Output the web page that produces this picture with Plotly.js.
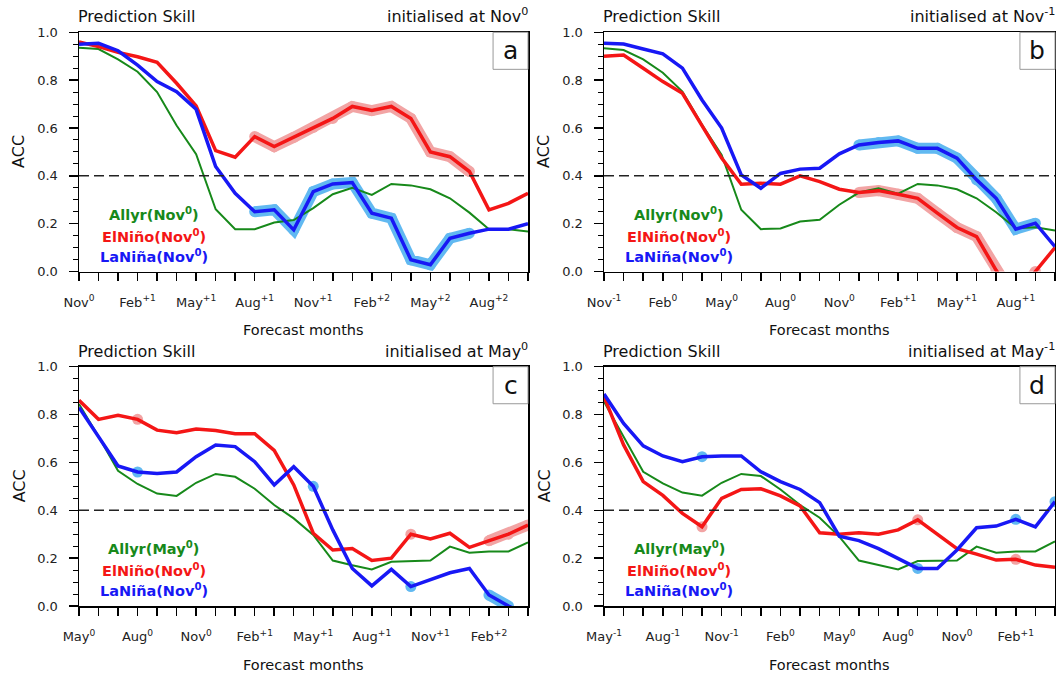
<!DOCTYPE html>
<html>
<head>
<meta charset="utf-8">
<script src="https://cdn.plot.ly/plotly-3.0.1.min.js"></script>
<style>html,body{margin:0;padding:0;background:#fff;}#chart{width:1056px;height:673px;}</style>
</head>
<body>
<div id="chart"></div>
<script>
// ---------------- data ----------------
const monthIdx = [0,1,2,3,4,5,6,7,8,9,10,11,12,13,14,15,16,17,18,19,20,21,22,23];
const labelMonths = [0,3,6,9,12,15,18,21];
const THRESH = 0.4;

// Panel a: initialised at Nov0
const labelsA = ['Nov<sup>0</sup>','Feb<sup>+1</sup>','May<sup>+1</sup>','Aug<sup>+1</sup>','Nov<sup>+1</sup>','Feb<sup>+2</sup>','May<sup>+2</sup>','Aug<sup>+2</sup>'];
const allyrA  = [0.935,0.93,0.887,0.835,0.75,0.61,0.49,0.26,0.177,0.177,0.205,0.215,0.265,0.323,0.35,0.32,0.366,0.36,0.344,0.306,0.246,0.177,0.177,0.167];
const elninoA = [0.96,0.94,0.916,0.898,0.875,0.787,0.692,0.505,0.478,0.564,0.522,0.561,0.603,0.64,0.69,0.673,0.69,0.64,0.50,0.48,0.418,0.258,0.285,0.327];
const laninaA = [0.95,0.954,0.923,0.863,0.794,0.752,0.678,0.439,0.327,0.25,0.258,0.174,0.334,0.366,0.372,0.244,0.223,0.049,0.028,0.139,0.16,0.177,0.177,0.2];
const sigElA  = [9,10,11,12,13,14,15,16,17,18,19,20];
const sigLaA  = [9,10,11,12,13,14,15,16,17,18,19,20];

// Panel b: initialised at Nov-1
const labelsB = ['Nov<sup>-1</sup>','Feb<sup>0</sup>','May<sup>0</sup>','Aug<sup>0</sup>','Nov<sup>0</sup>','Feb<sup>+1</sup>','May<sup>+1</sup>','Aug<sup>+1</sup>'];
const allyrB  = [0.933,0.926,0.887,0.831,0.752,0.613,0.487,0.258,0.177,0.18,0.209,0.216,0.279,0.33,0.348,0.325,0.366,0.36,0.344,0.306,0.248,0.181,0.185,0.171];
const elninoB = [0.90,0.905,0.85,0.794,0.745,0.606,0.474,0.365,0.369,0.365,0.40,0.376,0.344,0.33,0.338,0.323,0.306,0.244,0.184,0.146,0.005,-0.12,0.0,0.1];
const laninaB = [0.954,0.951,0.93,0.91,0.85,0.717,0.60,0.404,0.348,0.41,0.428,0.432,0.492,0.529,0.539,0.546,0.515,0.515,0.474,0.383,0.306,0.177,0.202,0.104];
const sigElB  = [13,14,15,16,17,18,19,20,21,22];
const sigLaB  = [13,14,15,16,17,18,19,20,21,22];

// Panel c: initialised at May0
const labelsC = ['May<sup>0</sup>','Aug<sup>0</sup>','Nov<sup>0</sup>','Feb<sup>+1</sup>','May<sup>+1</sup>','Aug<sup>+1</sup>','Nov<sup>+1</sup>','Feb<sup>+2</sup>'];
const allyrC  = [0.844,0.708,0.565,0.51,0.47,0.46,0.515,0.552,0.54,0.49,0.422,0.366,0.297,0.19,0.17,0.153,0.185,0.188,0.19,0.248,0.223,0.228,0.228,0.266];
const elninoC = [0.86,0.78,0.797,0.78,0.735,0.724,0.74,0.733,0.72,0.72,0.65,0.506,0.304,0.234,0.24,0.19,0.20,0.30,0.28,0.304,0.245,0.273,0.30,0.338];
const laninaC = [0.83,0.71,0.585,0.56,0.554,0.56,0.624,0.673,0.666,0.603,0.506,0.582,0.50,0.318,0.157,0.084,0.153,0.081,0.111,0.139,0.157,0.046,0.0,-0.04];
const sigElC  = [3,17,21,22,23];
const sigLaC  = [3,12,17,21,22];

// Panel d: initialised at May-1
const labelsD = ['May<sup>-1</sup>','Aug<sup>-1</sup>','Nov<sup>-1</sup>','Feb<sup>0</sup>','May<sup>0</sup>','Aug<sup>0</sup>','Nov<sup>0</sup>','Feb<sup>+1</sup>'];
const allyrD  = [0.854,0.71,0.561,0.512,0.474,0.461,0.515,0.552,0.543,0.487,0.422,0.369,0.29,0.19,0.17,0.153,0.188,0.19,0.19,0.248,0.223,0.228,0.228,0.27];
const elninoD = [0.875,0.673,0.52,0.462,0.387,0.331,0.45,0.487,0.49,0.46,0.418,0.306,0.30,0.306,0.30,0.318,0.36,0.30,0.24,0.217,0.192,0.195,0.171,0.162];
const laninaD = [0.886,0.763,0.669,0.627,0.603,0.624,0.627,0.627,0.561,0.52,0.487,0.432,0.292,0.273,0.24,0.20,0.157,0.157,0.234,0.327,0.334,0.362,0.331,0.436];
const sigElD  = [5,16,21];
const sigLaD  = [5,16,21,23];

const panelLetters = ['a','b','c','d'];
const initTitles = ['initialised at Nov<sup>0</sup>','initialised at Nov<sup>-1</sup>','initialised at May<sup>0</sup>','initialised at May<sup>-1</sup>'];
const legendA = ['Allyr(Nov<sup>0</sup>)','ElNiño(Nov<sup>0</sup>)','LaNiña(Nov<sup>0</sup>)'];
const legendC = ['Allyr(May<sup>0</sup>)','ElNiño(Nov<sup>0</sup>)','LaNiña(Nov<sup>0</sup>)'];

// ---------------- styling ----------------
const FONT = 'DejaVu Sans, Liberation Sans, Arial, sans-serif';
const GREEN = '#17891a', RED = '#f41616', BLUE = '#1818f5';
const RED_HI = '#e85a5a', BLUE_HI = '#1f9cec';
const W = 1056, H = 673;
const xDomA = [79/W, 528/W], xDomB = [604/W, 1055/W];
const yDomTop = [1-271.5/H, 1-32.3/H], yDomBot = [1-606/H, 1-366.7/H];

const panels = [
  {labels: labelsA, allyr: allyrA, el: elninoA, la: laninaA, sigEl: sigElA, sigLa: sigLaA, leg: legendA, xd: xDomA, yd: yDomTop},
  {labels: labelsB, allyr: allyrB, el: elninoB, la: laninaB, sigEl: sigElB, sigLa: sigLaB, leg: legendA, xd: xDomB, yd: yDomTop},
  {labels: labelsC, allyr: allyrC, el: elninoC, la: laninaC, sigEl: sigElC, sigLa: sigLaC, leg: legendC, xd: xDomA, yd: yDomBot},
  {labels: labelsD, allyr: allyrD, el: elninoD, la: laninaD, sigEl: sigElD, sigLa: sigLaD, leg: legendC, xd: xDomB, yd: yDomBot}
];

function masked(vals, sig) { return vals.map((v, i) => sig.includes(i) ? v : null); }

const traces = [];
const layout = {
  width: W, height: H, margin: {l:0, r:0, t:0, b:0},
  paper_bgcolor: '#fff', plot_bgcolor: '#fff', showlegend: false,
  font: {family: FONT, color: '#111'},
  annotations: [], shapes: []
};

panels.forEach((p, k) => {
  const n = k + 1, sfx = n === 1 ? '' : String(n);
  const xa = 'x' + sfx, ya = 'y' + sfx;
  // significance halos
  traces.push({x: monthIdx, y: masked(p.el, p.sigEl), xaxis: xa, yaxis: ya, mode: 'lines+markers',
    line: {color: RED_HI, width: 11}, marker: {color: RED_HI, size: 11}, opacity: 0.55, connectgaps: false, hoverinfo: 'skip'});
  traces.push({x: monthIdx, y: masked(p.la, p.sigLa), xaxis: xa, yaxis: ya, mode: 'lines+markers',
    line: {color: BLUE_HI, width: 11}, marker: {color: BLUE_HI, size: 11}, opacity: 0.7, connectgaps: false, hoverinfo: 'skip'});
  // main lines
  traces.push({x: monthIdx, y: p.allyr, xaxis: xa, yaxis: ya, mode: 'lines', line: {color: GREEN, width: 2}});
  traces.push({x: monthIdx, y: p.el, xaxis: xa, yaxis: ya, mode: 'lines', line: {color: RED, width: 3.5}});
  traces.push({x: monthIdx, y: p.la, xaxis: xa, yaxis: ya, mode: 'lines', line: {color: BLUE, width: 3.5}});

  layout['xaxis' + sfx] = {
    domain: p.xd, anchor: ya, range: [0, 23], tickmode: 'array', tickvals: labelMonths, ticktext: p.labels,
    ticks: 'outside', ticklen: 8, tickwidth: 1.5, tickcolor: '#000',
    minor: {tick0: 0, dtick: 1, ticks: 'outside', ticklen: 8, tickwidth: 1.5, tickcolor: '#000', showgrid: false},
    showgrid: false, zeroline: false,
    showline: true, linecolor: '#000', linewidth: 1.5, mirror: true, ticklabelstandoff: 10,
    tickfont: {family: FONT, size: 13, color: '#222'}, fixedrange: true
  };
  layout['yaxis' + sfx] = {
    domain: p.yd, anchor: xa, range: [0, 1], dtick: 0.2, tick0: 0, tickformat: '.1f',
    ticks: 'outside', ticklen: 9, tickwidth: 1.5, tickcolor: '#000',
    minor: {dtick: 0.05, ticks: 'outside', ticklen: 5, tickwidth: 1, tickcolor: '#000', showgrid: false},
    showgrid: false, zeroline: false, showline: true, linecolor: '#000', linewidth: 1.5, mirror: true,
    ticklabelstandoff: 8, tickfont: {family: FONT, size: 13, color: '#222'}, fixedrange: true
  };

  const xd = xa + ' domain', yd = ya + ' domain';
  // threshold line
  layout.shapes.push({type: 'line', xref: xd, x0: 0, x1: 1, yref: ya, y0: THRESH, y1: THRESH,
    line: {color: '#222', width: 1.5, dash: '10px,5px'}});
  // panel letter box
  layout.shapes.push({type: 'rect', xref: xd, yref: yd, x0: 1 - 35/450, x1: 1, y0: 1 - 37/239, y1: 1,
    fillcolor: '#fff', line: {color: '#999', width: 1}});
  layout.annotations.push({xref: xd, yref: yd, x: 1 - 17.5/450, y: 1 - 18.5/239, text: panelLetters[k],
    showarrow: false, xanchor: 'center', yanchor: 'middle', font: {family: FONT, size: 25, color: '#111'}});
  // titles
  layout.annotations.push({xref: xd, yref: yd, x: 0, y: 1, yshift: 4, text: 'Prediction Skill', showarrow: false,
    xanchor: 'left', yanchor: 'bottom', xshift: -3, font: {family: FONT, size: 16, color: '#111'}});
  layout.annotations.push({xref: xd, yref: yd, x: 1, y: 1, yshift: 4, text: initTitles[k], showarrow: false,
    xanchor: 'right', yanchor: 'bottom', xshift: 2, font: {family: FONT, size: 16, color: '#111'}});
  layout.annotations.push({xref: xd, yref: yd, x: 0, y: 0.5, xshift: -60, text: 'ACC', textangle: -90, showarrow: false,
    xanchor: 'center', yanchor: 'middle', font: {family: FONT, size: 16, color: '#111'}});
  layout.annotations.push({xref: xd, yref: yd, x: 0.5, y: 0, yshift: -58.5, text: 'Forecast months', showarrow: false,
    xanchor: 'center', yanchor: 'middle', font: {family: FONT, size: 14.5, color: '#111'}});
  // legend texts
  const legY = [0.242, 0.15, 0.066];
  const legC = [GREEN, RED, BLUE];
  p.leg.forEach((t, j) => {
    layout.annotations.push({xref: xd, yref: yd, x: 0.167, y: legY[j], text: '<b>' + t + '</b>', showarrow: false,
      xanchor: 'center', yanchor: 'middle', font: {family: FONT, size: 14.5, color: legC[j]}});
  });
});

Plotly.newPlot('chart', traces, layout, {staticPlot: true, displayModeBar: false});
</script>
</body>
</html>
